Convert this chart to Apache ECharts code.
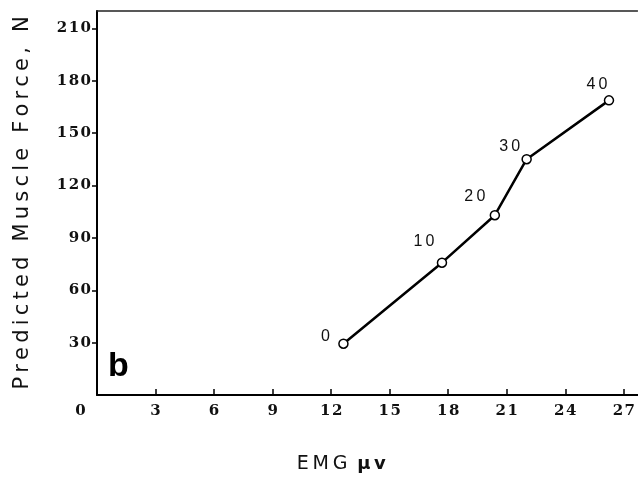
<!DOCTYPE html>
<html>
<head>
<meta charset="utf-8">
<script src="https://cdn.jsdelivr.net/npm/echarts@6/dist/echarts.min.js"></script>
<style>
  html, body { margin: 0; padding: 0; background: #fff; }
  #chart { width: 638px; height: 479px; }
</style>
</head>
<body>
<div id="chart"></div>
<script>
// EMG amplitude (µV) and predicted muscle force (N) for each load level
const emgValues = [12.63, 17.68, 20.39, 22.02, 26.24];
const forceValues = [29.4, 75.8, 103.0, 135.1, 168.8];
const pointLabels = ['0', '10', '20', '30', '40'];

// Axis tick values
const xTicks = [3, 6, 9, 12, 15, 18, 21, 24, 27];
const xLabelValues = [0, 3, 6, 9, 12, 15, 18, 21, 24, 27];
const yTicks = [30, 60, 90, 120, 150, 180, 210];

// Where each point's label sits relative to its marker (pixels)
const labelNudges = [[-18, -7], [-18, -21], [-20, -19], [-17, -13], [-12, -16]];

// Widen letter spacing by inserting narrow spaces between characters
const spaced = (s, sep) => String(s).split('').join(sep || '\u2009');

const chart = echarts.init(document.getElementById('chart'), null, { renderer: 'canvas' });

const seriesData = emgValues.map((x, i) => ({
  value: [x, forceValues[i]],
  label: { offset: labelNudges[i] }
}));

const tickFont = { fontFamily: 'DejaVu Serif', fontWeight: 'bold', fontSize: 15, color: '#111' };

chart.setOption({
  animation: false,
  backgroundColor: '#fff',
  title: {
    text: 'b',
    left: 108,
    top: 350,
    padding: 0,
    textStyle: { fontFamily: 'Liberation Sans', fontWeight: 'bold', fontSize: 34, color: '#000' }
  },
  grid: { left: 97, top: 11, right: -2, bottom: 84, containLabel: false },
  xAxis: [{
    type: 'value',
    min: 0,
    max: 27.7,
    name: '{a|' + spaced('EMG', '\u2009') + '\u2009 }{b|' + spaced('\u03bcv', '\u2009') + '}',
    nameLocation: 'middle',
    nameGap: 60,
    nameTextStyle: {
      fontFamily: 'DejaVu Sans', fontSize: 19, color: '#111',
      padding: [0, 52, 0, 0],
      rich: {
        a: { fontFamily: 'DejaVu Sans', fontSize: 19, color: '#111' },
        b: { fontFamily: 'DejaVu Sans', fontWeight: 'bold', fontSize: 18, color: '#111' }
      }
    },
    splitLine: { show: false },
    axisLine: { show: true, onZero: false, lineStyle: { color: '#000', width: 2 } },
    axisTick: { show: true, inside: true, length: 6, customValues: xTicks, lineStyle: { color: '#000', width: 1.5 } },
    axisLabel: {
      customValues: xLabelValues,
      margin: 9,
      ...tickFont,
      formatter: v => v === 0 ? '{z|0}' : spaced(v, '\u200a'),
      rich: { z: { ...tickFont, padding: [0, 33, 0, 0] } }
    }
  }, {
    type: 'value',
    min: 0,
    max: 27.7,
    position: 'top',
    splitLine: { show: false },
    axisLine: { show: true, onZero: false, lineStyle: { color: '#222', width: 1.5 } },
    axisTick: { show: false },
    axisLabel: { show: false }
  }],
  yAxis: {
    type: 'value',
    min: 0,
    max: 220,
    name: spaced('Predicted Muscle Force, N', '\u2009'),
    nameLocation: 'middle',
    nameRotate: 90,
    nameGap: 64,
    nameTextStyle: { fontFamily: 'DejaVu Sans', fontSize: 21, color: '#111' },
    splitLine: { show: false },
    axisLine: { show: true, onZero: false, lineStyle: { color: '#000', width: 2 } },
    axisTick: { show: true, inside: false, length: 5, customValues: yTicks, lineStyle: { color: '#000', width: 1.5 } },
    axisLabel: {
      customValues: yTicks,
      margin: 6,
      ...tickFont,
      formatter: v => spaced(v, '\u200a')
    }
  },
  series: [{
    type: 'line',
    data: seriesData,
    symbol: 'circle',
    symbolSize: 9,
    lineStyle: { color: '#000', width: 2.5 },
    itemStyle: { color: '#fff', borderColor: '#000', borderWidth: 1.5 },
    label: {
      show: true,
      position: 'inside',
      align: 'center',
      verticalAlign: 'middle',
      fontFamily: 'Liberation Sans',
      fontSize: 16,
      color: '#111',
      formatter: p => spaced(pointLabels[p.dataIndex], '\u2009')
    },
    emphasis: { disabled: true }
  }]
});
</script>
</body>
</html>
